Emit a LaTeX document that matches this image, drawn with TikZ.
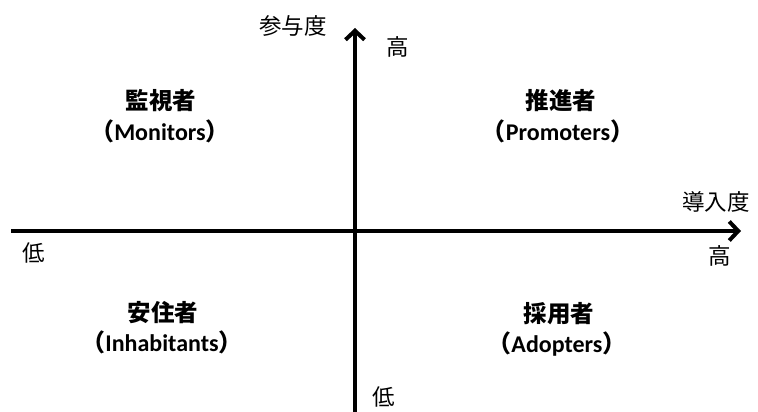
\documentclass[tikz,border=0pt]{standalone}
\usepackage{fontspec}
\setmainfont{Carlito}
\newfontfamily\cjk{Noto Sans CJK JP}
\usetikzlibrary{arrows.meta}
\begin{document}
\begin{tikzpicture}[x=1pt,y=-1pt,
  axis/.style={line width=4pt,-{Straight Barb[length=9pt,width=19pt]}},
  axlabel/.style={inner sep=0pt,font=\cjk\fontsize{22.5}{26}\selectfont},
  qname/.style={inner sep=0pt,font=\cjk\bfseries\fontsize{23.5}{27}\selectfont},
  qeng/.style={inner sep=0pt,font=\bfseries\fontsize{24}{28}\selectfont}]
\useasboundingbox (0,0) rectangle (758,412);
\coordinate (vb) at (355,413);
\coordinate (vt) at (355,28);
\coordinate (hl) at (11,231);
\coordinate (hr) at (741,231);
\draw[axis] (vb) -- (vt);
\draw[axis] (hl) -- (hr);
\node[axlabel] (ylab) at (293,26) {参与度};
\node[axlabel] (yhi) at (398,47) {高};
\node[axlabel] (ylo) at (384,397) {低};
\node[axlabel] (xlab) at (716,202) {導入度};
\node[axlabel] (xhi) at (720,256) {高};
\node[axlabel] (xlo) at (34,253) {低};
\node[qname] (mon) at (161,101) {監視者};
\node[qeng] (mone) at (160,131) {{\cjk （}Monitors{\cjk ）}};
\node[qname] (pro) at (561,101) {推進者};
\node[qeng] (proe) at (558,131) {{\cjk （}Promoters{\cjk ）}};
\node[qname] (inh) at (163,313) {安住者};
\node[qeng] (inhe) at (162,342) {{\cjk （}Inhabitants{\cjk ）}};
\node[qname] (ado) at (559,314) {採用者};
\node[qeng] (adoe) at (557,344) {{\cjk （}Adopters{\cjk ）}};
\end{tikzpicture}
\end{document}
